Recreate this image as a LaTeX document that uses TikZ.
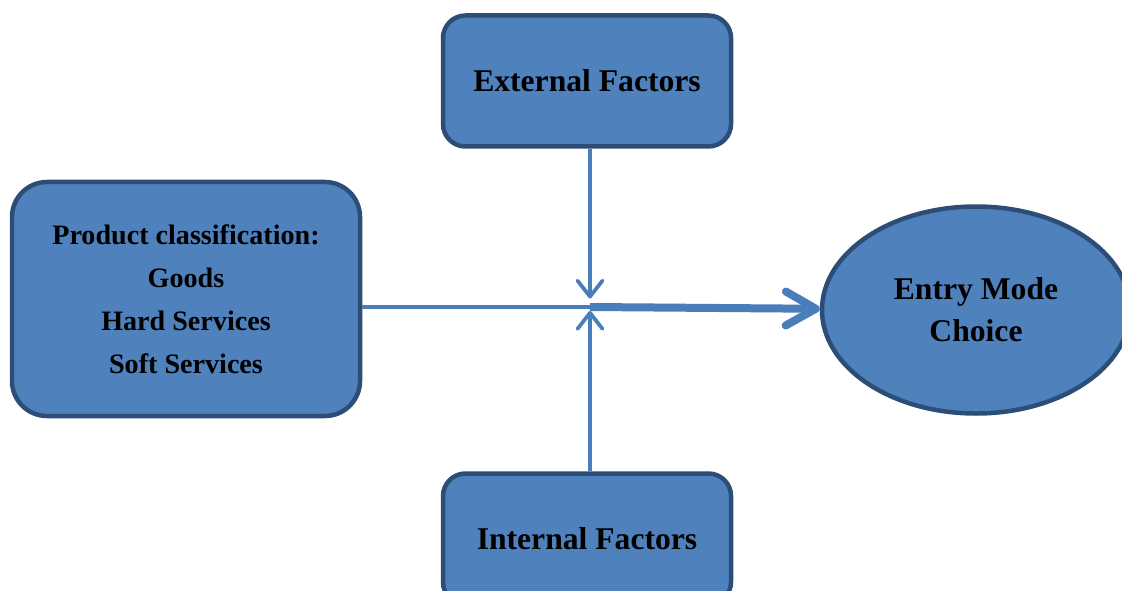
\documentclass[tikz,border=0pt]{standalone}
\usepackage{fontspec}
\setmainfont{Liberation Serif}
\usepackage{tikz}
\usetikzlibrary{positioning, arrows.meta, calc, shapes.geometric}
\definecolor{boxblue}{HTML}{4F81BD}
\definecolor{edgeblue}{HTML}{2C4D75}
\definecolor{lineblue}{HTML}{4A7EBB}

\begin{document}
\begin{tikzpicture}[font=\bfseries,
  fac/.style={draw=edgeblue,line width=0.09cm,fill=boxblue,rounded corners=0.45cm,align=center,minimum width=5.76cm,minimum height=2.62cm,font=\fontsize{18}{24}\selectfont\bfseries},
  cls/.style={draw=edgeblue,line width=0.09cm,fill=boxblue,rounded corners=0.7cm,align=center,minimum width=6.96cm,minimum height=4.68cm,font=\fontsize{16}{24.5}\selectfont\bfseries},
  goal/.style={draw=edgeblue,line width=0.09cm,fill=boxblue,ellipse,inner sep=0pt,minimum width=6.16cm,minimum height=4.14cm,align=center,font=\fontsize{18}{24}\selectfont\bfseries},
  link/.style={draw=lineblue,line width=0.075cm},
  thin/.style={link,-{Straight Barb[length=0.32cm,width=0.5cm,round]}},
  thick/.style={draw=lineblue,line width=0.16cm,-{Straight Barb[length=0.6cm,width=0.68cm,round]}}]
  \useasboundingbox (0,0) rectangle (22.44,11.8);
  \node[fac](ext) at (11.74,10.18){External Factors};
  \node[fac,below=6.45cm of ext](int){Internal Factors};
  \node[cls](prod) at (3.72,5.82){Product classification:\\ Goods\\ Hard Services\\ Soft Services};
  \node[goal](emc) at (19.52,5.6){Entry Mode\\ Choice};
  \coordinate (jn) at (11.80,5.66);
  \draw[link](jn -| prod.east)--(jn);
  \draw[thin,shorten >=0.17cm](ext.south -| jn)--(jn);\draw[thin,shorten >=0.08cm](int.north -| jn)--(jn);
  \draw[thick](jn)--(emc);
\end{tikzpicture}
\end{document}
